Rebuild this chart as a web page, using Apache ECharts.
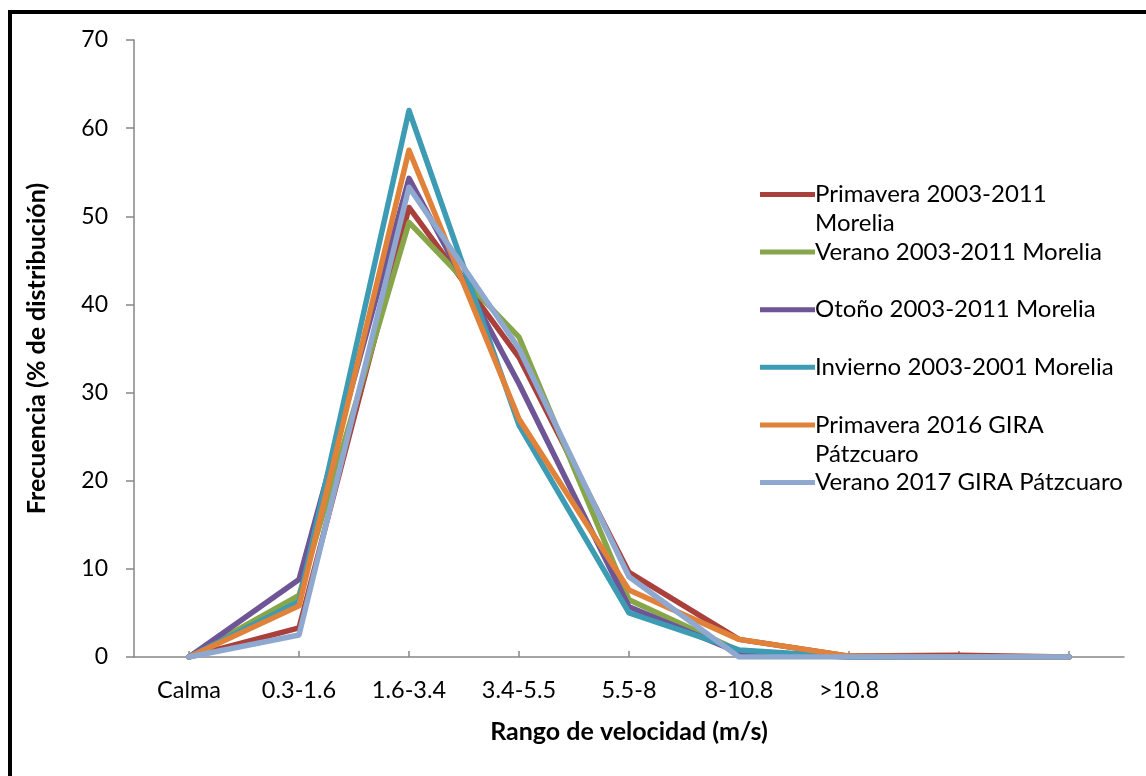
<!DOCTYPE html>
<html>
<head>
<meta charset="utf-8">
<script src="https://cdn.jsdelivr.net/npm/echarts@6/dist/echarts.min.js"></script>
<style>
  html, body { margin: 0; padding: 0; background: #fff; }
  #frame { position: absolute; left: 8px; top: 10px; width: 1300px; height: 900px;
           border-left: 4px solid #000; border-top: 4px solid #000; }
  #chart { position: absolute; left: 0; top: 0; width: 1146px; height: 776px; }
</style>
</head>
<body>
<div id="frame"></div>
<div id="chart"></div>
<script>
// Wind speed ranges (m/s); the last two slots are unlabelled
const categories = ['Calma', '0.3-1.6', '1.6-3.4', '3.4-5.5', '5.5-8', '8-10.8', '>10.8', '', ''];

// Frequency (% of distribution) per season and period
const primavera0311 = [0, 3.3, 51.0, 34.0, 9.6, 2.0, 0.1, 0.2, 0];
const verano0311    = [0, 7.0, 49.3, 36.3, 6.5, 0.7, 0, 0, 0];
const otono0311     = [0, 8.8, 54.3, 31.0, 5.7, 0.5, 0, 0, 0];
const invierno0301  = [0, 6.3, 62.0, 26.3, 5.0, 0.8, 0, 0, 0];
const primavera2016 = [0, 5.8, 57.5, 27.0, 7.6, 2.0, 0.1, 0, 0];
const verano2017    = [0, 2.5, 53.3, 35.0, 9.1, 0, 0, 0, 0];

const seriesNames = [
  'Primavera 2003-2011 Morelia',
  'Verano 2003-2011 Morelia',
  'Otoño 2003-2011 Morelia',
  'Invierno 2003-2001 Morelia',
  'Primavera 2016 GIRA Pátzcuaro',
  'Verano 2017 GIRA Pátzcuaro'
];
const seriesData = [primavera0311, verano0311, otono0311, invierno0301, primavera2016, verano2017];
const seriesColors = ['#A9403C', '#87A64A', '#6E5596', '#3D9BB4', '#E0823A', '#8FA8D0'];

// Legend entries that wrap onto a second line
const legendLines = {
  'Primavera 2003-2011 Morelia': ['Primavera 2003-2011', 'Morelia'],
  'Primavera 2016 GIRA Pátzcuaro': ['Primavera 2016 GIRA', 'Pátzcuaro']
};

const FONT = 'Lato';
const chart = echarts.init(document.getElementById('chart'), null, { renderer: 'canvas' });

chart.setOption({
  backgroundColor: 'transparent',
  animation: false,
  textStyle: { fontFamily: FONT },
  grid: { left: 134, right: 22, top: 40, bottom: 119, containLabel: false },
  legend: {
    orient: 'vertical',
    left: 755,
    top: 146,
    itemWidth: 55,
    itemHeight: 5,
    itemGap: -29.4,
    icon: 'rect',
    data: seriesNames,
    // every entry is three lines tall so the key sits on the first text line
    formatter: function (name) {
      const lines = legendLines[name];
      return lines ? ' \n' + lines[0] + '\n' + lines[1] : ' \n' + name + '\n ';
    },
    textStyle: { fontFamily: FONT, fontSize: 24, color: '#000', lineHeight: 29, padding: [0, 0, 0, -5] }
  },
  xAxis: {
    type: 'category',
    data: categories,
    boundaryGap: true,
    name: 'Rango de velocidad (m/s)',
    nameLocation: 'middle',
    nameGap: 62,
    nameTextStyle: { fontFamily: FONT, fontSize: 25, fontWeight: 'bold', color: '#000' },
    axisLine: { lineStyle: { color: '#868686', width: 1.5 } },
    axisTick: { show: true, inside: true, length: 6, alignWithLabel: true, lineStyle: { color: '#868686', width: 1.5 } },
    axisLabel: { fontFamily: FONT, fontSize: 23.5, color: '#000', margin: 21, interval: 0 },
    splitLine: { show: false }
  },
  yAxis: {
    type: 'value',
    min: 0,
    max: 70,
    interval: 10,
    name: 'Frecuencia (% de distribución)',
    nameLocation: 'middle',
    nameGap: 85,
    nameTextStyle: { fontFamily: FONT, fontSize: 25, fontWeight: 'bold', color: '#000' },
    axisLine: { show: true, lineStyle: { color: '#868686', width: 1.5 } },
    axisTick: { show: true, length: 8, lineStyle: { color: '#868686', width: 1.5 } },
    axisLabel: { fontFamily: FONT, fontSize: 23, color: '#000', margin: 26 },
    splitLine: { show: false }
  },
  series: seriesNames.map(function (name, i) {
    return {
      name: name,
      type: 'line',
      data: seriesData[i],
      showSymbol: false,
      symbol: 'none',
      smooth: false,
      color: seriesColors[i],
      lineStyle: { width: 5.5, color: seriesColors[i], cap: 'round', join: 'round' }
    };
  })
});
</script>
</body>
</html>
